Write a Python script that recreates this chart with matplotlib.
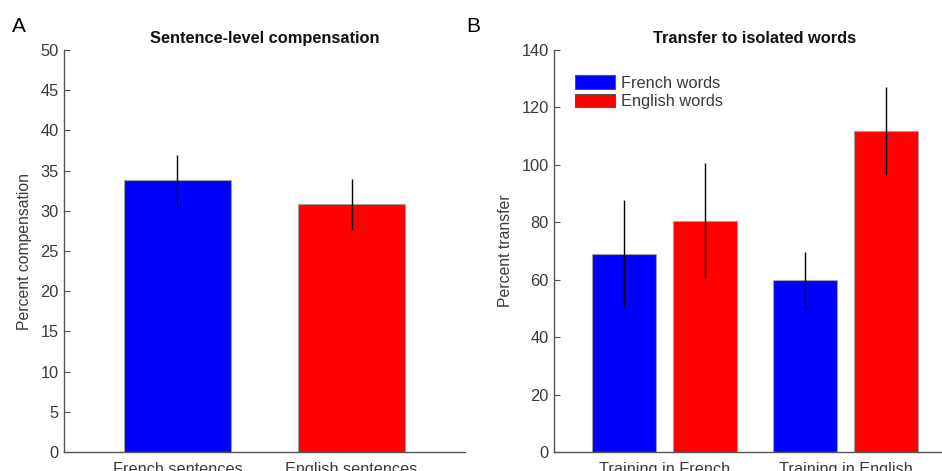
import matplotlib
matplotlib.use("Agg")
import matplotlib.pyplot as plt
import numpy as np
from matplotlib.patches import Patch

plt.rcParams['font.family'] = ['Liberation Sans', 'DejaVu Sans']

# Panel A data
a_categories = ["French sentences", "English sentences"]
a_values = [33.8, 30.8]
a_errors = [3.1, 3.2]
a_colors = ["#0000ff", "#ff0000"]

# Panel B data
b_groups = ["Training in French", "Training in English"]
b_series = ["French words", "English words"]
b_french = [69.0, 59.8]
b_french_err = [18.6, 10.0]
b_english = [80.4, 111.7]
b_english_err = [20.1, 15.4]

a_yticks = list(range(0, 51, 5))
b_yticks = list(range(0, 141, 20))

W, H = 942, 471
fig = plt.figure(figsize=(W / 100, H / 100), dpi=100)

spine_col = "#555555"
text_col = "#3a3a3a"
edge_col = "#a0a0a0"

def style(ax):
    for s in ["top", "right"]:
        ax.spines[s].set_visible(False)
    for s in ["left", "bottom"]:
        ax.spines[s].set_color(spine_col)
        ax.spines[s].set_linewidth(1.0)
    ax.tick_params(axis='y', direction='in', length=4, width=0.8, color=spine_col,
                   labelsize=11.8, labelcolor=text_col, pad=4)
    ax.tick_params(axis='x', length=0, labelsize=11.7, labelcolor=text_col, pad=7)

# Panel A
axA = fig.add_axes([64 / W, 19 / H, 401 / W, 402 / H])
xa = np.arange(1, len(a_categories) + 1)
axA.bar(xa, a_values, width=0.615, color=a_colors, edgecolor=edge_col, linewidth=0.8, zorder=2)
axA.errorbar(xa, a_values, yerr=a_errors, fmt='none', ecolor='black', elinewidth=1.0, capsize=0, zorder=3)
axA.set_xlim(0.348, 2.652)
axA.set_ylim(0, 50)
axA.set_yticks(a_yticks)
axA.set_xticks(xa)
axA.set_xticklabels(a_categories)
axA.set_ylabel("Percent compensation", fontsize=11.3, color=text_col, labelpad=6)
axA.set_title("Sentence-level compensation", fontsize=11.8, fontweight='bold', color='#111111', pad=5)
style(axA)

# Panel B
axB = fig.add_axes([554.3 / W, 19 / H, 401.4 / W, 402 / H])
xb = np.arange(1, len(b_groups) + 1)
off = 0.223
bw = 0.354
axB.bar(xb - off, b_french, width=bw, color="#0000ff", edgecolor=edge_col, linewidth=0.8,
        zorder=2, label=b_series[0])
axB.bar(xb + off, b_english, width=bw, color="#ff0000", edgecolor=edge_col, linewidth=0.8,
        zorder=2, label=b_series[1])
axB.errorbar(xb - off, b_french, yerr=b_french_err, fmt='none', ecolor='black', elinewidth=1.0, capsize=0, zorder=3)
axB.errorbar(xb + off, b_english, yerr=b_english_err, fmt='none', ecolor='black', elinewidth=1.0, capsize=0, zorder=3)
axB.set_xlim(0.391, 2.609)
axB.set_ylim(0, 140)
axB.set_yticks(b_yticks)
axB.set_xticks(xb)
axB.set_xticklabels(b_groups)
axB.set_ylabel("Percent transfer", fontsize=11.3, color=text_col, labelpad=6)
axB.set_title("Transfer to isolated words", fontsize=11.8, fontweight='bold', color='#111111', pad=5)
style(axB)
handles = [Patch(facecolor="#0000ff", edgecolor="#555555", linewidth=0.8),
           Patch(facecolor="#ff0000", edgecolor="#555555", linewidth=0.8)]
leg = axB.legend(handles, b_series, loc='upper left', bbox_to_anchor=(0.035, 0.953),
                 frameon=False, fontsize=11.8, handlelength=2.45, handleheight=0.85,
                 handletextpad=0.35, labelspacing=0.22, borderaxespad=0)
for t in leg.get_texts():
    t.set_color(text_col)

fig.text(12 / W, 1 - 32 / H, "A", fontsize=15, color='black')
fig.text(466 / W, 1 - 32 / H, "B", fontsize=15, color='black')

fig.savefig("out.png", dpi=100)
